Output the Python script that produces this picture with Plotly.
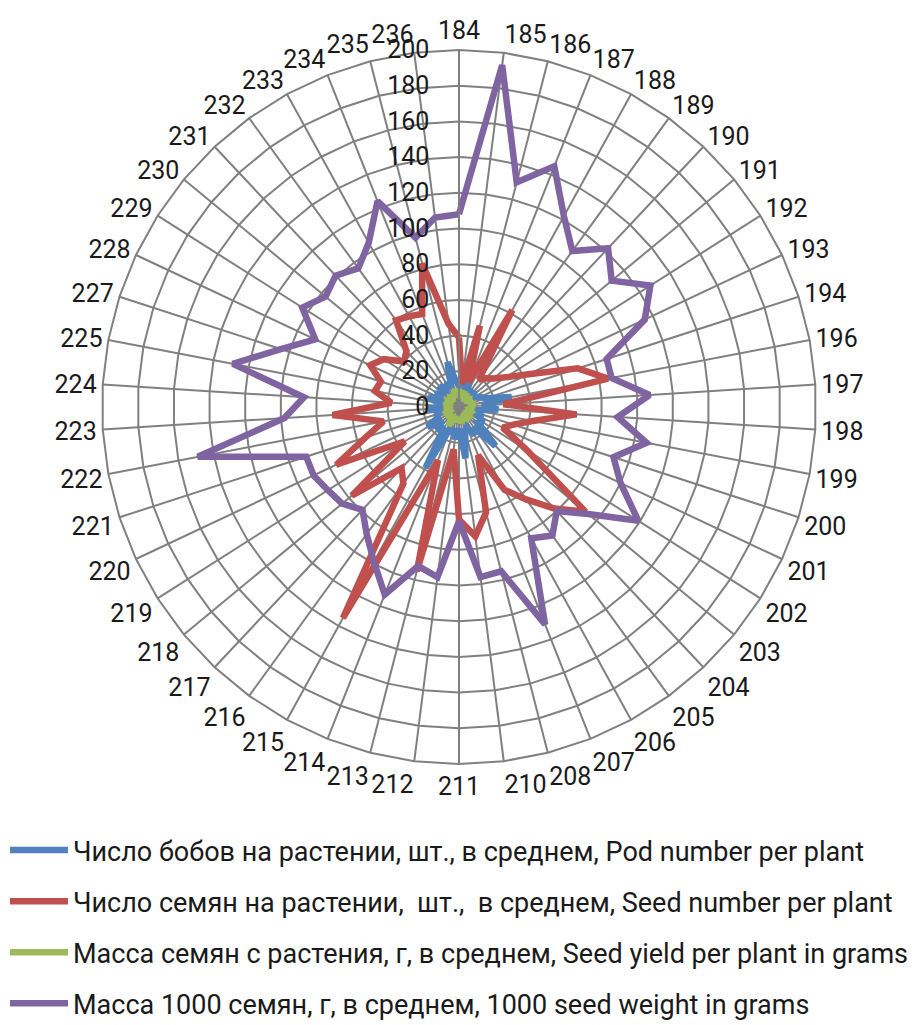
import plotly.graph_objects as go

# Line (variety) numbers around the radar
lines = ["184", "185", "186", "187", "188", "189", "190", "191", "192", "193",
         "194", "196", "197", "198", "199", "200", "201", "202", "203", "204",
         "205", "206", "207", "208", "210", "211", "212", "213", "214", "215",
         "216", "217", "218", "219", "220", "221", "222", "223", "224", "225",
         "227", "228", "229", "230", "231", "232", "233", "234", "235", "236"]

pods_per_plant = [12, 10, 12, 16, 10, 12, 9, 11, 10, 13,
                  16, 30, 13, 22, 10, 14, 12, 16, 14, 30,
                  14, 18, 12, 14, 29, 12, 18, 14, 12, 39,
                  14, 18, 12, 21, 12, 14, 10, 18, 10, 12,
                  18, 12, 14, 12, 16, 12, 14, 12, 26, 15]

seeds_per_plant = [39, 13, 47, 15, 62, 19, 22, 25, 31, 43,
                   70, 85, 25, 66, 42, 32, 27, 45, 92, 78,
                   64, 53, 29, 61, 73, 63, 24, 95, 32, 135,
                   53, 47, 78, 36, 76, 55, 43, 71, 38, 48,
                   46, 55, 50, 40, 43, 60, 58, 56, 83, 47]

seed_yield = [10, 7, 8, 8, 6, 7, 6, 7, 6, 7,
              7, 9, 6, 8, 6, 7, 6, 8, 7, 9,
              6, 7, 6, 7, 9, 6, 8, 7, 6, 12,
              7, 8, 6, 9, 6, 7, 6, 8, 6, 7,
              8, 6, 7, 6, 7, 6, 7, 7, 10, 8]

thousand_seed_weight = [108, 193, 130, 145, 122, 108, 122, 111, 127, 115,
                        87, 87, 107, 89, 107, 91, 100, 119, 94, 80,
                        89, 84, 131, 95, 96, 64, 96, 92, 113, 99,
                        88, 79, 85, 87, 90, 90, 149, 98, 87, 129,
                        105, 89, 104, 97, 101, 96, 105, 124, 98, 107]

series = [
    ("Число бобов на растении, шт., в среднем, Pod number per plant",
     pods_per_plant, "#4F81BD"),
    ("Число семян на растении,\u00a0 шт.,\u00a0 в среднем, Seed number per plant",
     seeds_per_plant, "#C0504D"),
    ("Масса семян с растения, г, в среднем, Seed yield per plant in grams",
     seed_yield, "#9BBB59"),
    ("Масса 1000 семян, г, в среднем, 1000 seed weight in grams",
     thousand_seed_weight, "#8064A2"),
]

FONT = "Roboto"
TEXT = "#1a1a1a"
GRID = "#808080"

fig = go.Figure()
for i, (name, vals, color) in enumerate(series):
    # close each polygon back to the first line
    fig.add_trace(go.Scatterpolar(
        r=vals + vals[:1],
        theta=lines + lines[:1],
        mode="lines",
        name=name,
        legendgroup=f"g{i}",
        line=dict(color=color, width=6.5),
    ))

W, H = 912, 1025
fig.update_layout(
    width=W, height=H,
    margin=dict(l=0, r=0, t=0, b=0, autoexpand=False),
    paper_bgcolor="white",
    font=dict(family=FONT, size=25, color=TEXT),
    showlegend=True,
    legend=dict(
        x=5 / W, y=1 - 826 / H, xanchor="left", yanchor="top",
        orientation="v",
        font=dict(family=FONT, size=27, color=TEXT),
        itemwidth=58,
        tracegroupgap=13,
        bgcolor="rgba(0,0,0,0)",
    ),
    polar=dict(
        domain=dict(x=[102 / W, 816 / W], y=[1 - 764 / H, 1 - 50 / H]),
        bgcolor="white",
        gridshape="linear",
        angularaxis=dict(
            type="category",
            categoryorder="array",
            categoryarray=lines,
            rotation=90,
            direction="clockwise",
            showline=True,
            linecolor=GRID,
            linewidth=2,
            gridcolor=GRID,
            gridwidth=1.8,
            ticks="",
            tickfont=dict(family=FONT, size=25, color=TEXT),
        ),
        radialaxis=dict(
            range=[0, 200],
            tickvals=list(range(0, 201, 20)),
            angle=90,
            side="counterclockwise",
            tickangle=90,
            showline=True,
            linecolor=GRID,
            linewidth=1.8,
            gridcolor=GRID,
            gridwidth=1.8,
            ticks="outside",
            ticklen=20,
            tickcolor="rgba(0,0,0,0)",
            tickfont=dict(family=FONT, size=25, color=TEXT),
        ),
    ),
)

fig.write_html("out.html")
